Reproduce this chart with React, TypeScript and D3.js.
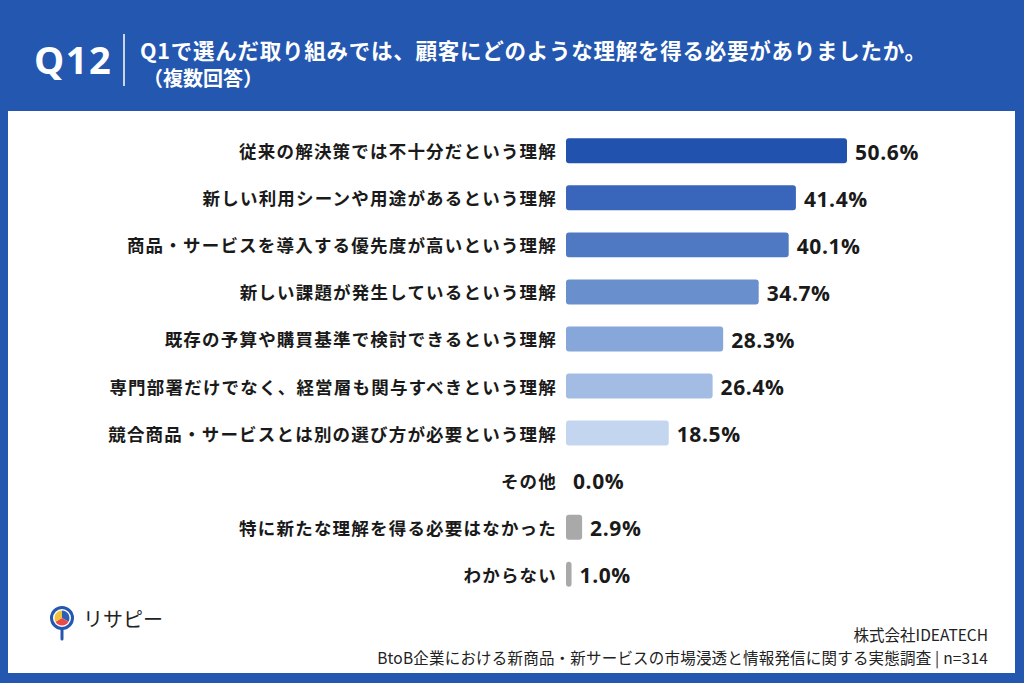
import React from "react";
import * as d3 from "d3";

const categories = [
  "従来の解決策では不十分だという理解",
  "新しい利用シーンや用途があるという理解",
  "商品・サービスを導入する優先度が高いという理解",
  "新しい課題が発生しているという理解",
  "既存の予算や購買基準で検討できるという理解",
  "専門部署だけでなく、経営層も関与すべきという理解",
  "競合商品・サービスとは別の選び方が必要という理解",
  "その他",
  "特に新たな理解を得る必要はなかった",
  "わからない",
];
const values = [50.6, 41.4, 40.1, 34.7, 28.3, 26.4, 18.5, 0.0, 2.9, 1.0];
const barColors = [
  "#2152ad",
  "#3966ba",
  "#4f79c3",
  "#6a8fcd",
  "#87a6da",
  "#a3bce4",
  "#c3d5ef",
  "#a9a9a9",
  "#a9a9a9",
  "#a9a9a9",
];

const W = 1024;
const H = 683;
const font = "'Noto Sans CJK JP', 'Noto Sans', sans-serif";
const numFont = "'Open Sans', sans-serif";

export default function App() {
  const x = d3.scaleLinear().domain([0, 50.6]).range([566, 847]);
  const y = d3
    .scaleBand<string>()
    .domain(categories)
    .range([127, 598])
    .paddingInner(0.47)
    .paddingOuter(0.24);
  const bh = y.bandwidth();

  return (
    <svg
      width={W}
      height={H}
      viewBox={`0 0 ${W} ${H}`}
      style={{ position: "absolute", left: 0, top: 0, fontFamily: font }}
    >
      <rect x={0} y={0} width={W} height={H} fill="#2457b0" />
      <rect x={8} y={111} width={1007} height={562} fill="#ffffff" />

      {/* header */}
      <text x={34} y={74} fill="#fff" fontSize={38} fontWeight={700} fontFamily={numFont} letterSpacing={1.5}>
        Q12
      </text>
      <line x1={124} x2={124} y1={34} y2={86} stroke="#fff" strokeWidth={1.5} />
      <text x={140} y={59} fill="#fff" fontSize={21.5} fontWeight={700} letterSpacing={0.75}>
        Q1で選んだ取り組みでは、顧客にどのような理解を得る必要がありましたか。
      </text>
      <text x={143} y={86} fill="#fff" fontSize={20} fontWeight={700}>
        （複数回答）
      </text>

      {/* bars */}
      {categories.map((c, i) => {
        const yy = y(c) as number;
        const w = x(values[i]) - x(0);
        return (
          <g key={c}>
            <text
              x={557}
              y={yy + bh / 2}
              textAnchor="end"
              dominantBaseline="central"
              fontSize={17.5}
              fontWeight={700}
              letterSpacing={1.2}
              fill="#1a1a1a"
            >
              {c}
            </text>
            {values[i] > 0 && (
              <rect x={x(0)} y={yy} width={w} height={bh} rx={3} fill={barColors[i]} />
            )}
            <text
              x={x(values[i]) + (values[i] > 0 ? 8 : 7)}
              y={yy + bh / 2 + 1}
              dominantBaseline="central"
              fontSize={21}
              fontWeight={700}
              letterSpacing={0.6}
              fill="#1a1a1a"
              fontFamily={numFont}
            >
              {values[i].toFixed(1)}%
            </text>
          </g>
        );
      })}

      {/* logo */}
      <g>
        <circle cx={62} cy={618} r={10.5} fill="#fff" stroke="#2457b0" strokeWidth={3} />
        <path d="M62,618 L62,610.5 A7.5,7.5 0 0,1 68.5,621.7 Z" fill="#2c5fb7" />
        <path d="M62,618 L68.5,621.7 A7.5,7.5 0 0,1 55.5,621.7 Z" fill="#e84a4a" />
        <path d="M62,618 L55.5,621.7 A7.5,7.5 0 0,1 62,610.5 Z" fill="#f4c23a" />
        <line x1={62} x2={62} y1={629} y2={639} stroke="#2457b0" strokeWidth={3} strokeLinecap="round" />
        <text x={83} y={627} fontSize={20} fill="#222" fontWeight={400}>
          リサピー
        </text>
      </g>

      {/* source */}
      <text x={988} y={641} textAnchor="end" fontSize={15.5} fill="#222">
        株式会社IDEATECH
      </text>
      <text x={988} y={664} textAnchor="end" fontSize={15.5} letterSpacing={0.2} fill="#222">
        BtoB企業における新商品・新サービスの市場浸透と情報発信に関する実態調査 | n=314
      </text>
    </svg>
  );
}
